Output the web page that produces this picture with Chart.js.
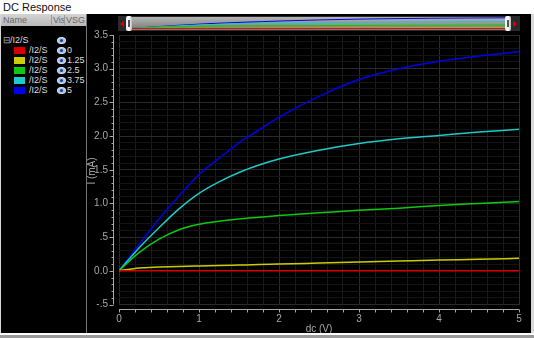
<!DOCTYPE html>
<html>
<head>
<meta charset="utf-8">
<script src="https://cdn.jsdelivr.net/npm/chart.js@4"></script>
<style>
  body { margin: 0; width: 534px; height: 338px; background: #d8d8d8; position: relative; overflow: hidden; font-family: 'Liberation Sans', Arial, sans-serif; }
  .titlebar { position: absolute; left: 0; top: 0; width: 534px; height: 14px; background: #fff; font-size: 11px; color: #111; }
  .titlebar span { position: absolute; left: 3px; top: 1px; }
  .panel { position: absolute; left: 1px; top: 14px; width: 85px; height: 319px; background: #000; border-right: 1px solid #777; }
  .hdr { position: absolute; left: 0; top: 0; width: 85px; height: 12px; background: linear-gradient(#d4d4d4, #b8b8b8); font-size: 9px; color: #666; }
  .hdr span { position: absolute; top: 1px; }
  .row { position: absolute; left: 0; height: 10px; width: 85px; font-size: 9px; color: #ddd; }
  .row span { position: absolute; top: 0; }
  .sw { position: absolute; left: 13px; top: 2px; width: 11px; height: 7px; }
  .eye { position: absolute; left: 56px; top: 2px; width: 7px; height: 5px; border-radius: 50%; background: #9fc4e8; border: 1px solid #dde; }
  .eye:after { content: ''; position: absolute; left: 2px; top: 1px; width: 3px; height: 3px; border-radius: 50%; background: #1a3c8a; }
  .plotbg { position: absolute; left: 87px; top: 14px; width: 444px; height: 319px; background: #000; }
  #chart { position: absolute; left: 87px; top: 14px; }
  .ytitle { position: absolute; left: 62px; top: 165px; width: 60px; height: 12px; line-height: 12px; text-align: center; font-size: 10px; color: #a8a8a8; transform: rotate(-90deg); font-family: 'Liberation Sans Narrow', 'Liberation Sans', sans-serif; }
  .ov { position: absolute; left: 118px; top: 16px; width: 402px; height: 15px; background: #2a2a2a; }
  .ovbody { position: absolute; left: 14px; top: 1px; width: 373px; height: 13px; background: linear-gradient(#b4b4b4, #7a7a7a); }
  #mini { position: absolute; left: 132px; top: 17px; }
  .hdl { position: absolute; top: 0; width: 6px; height: 15px; background: linear-gradient(90deg, #eee, #fff, #bbb); border-radius: 2px; }
  .hdl:after { content: ''; position: absolute; left: 2px; top: 4px; width: 2px; height: 7px; background: #555; }
  .arr { position: absolute; top: 5px; width: 0; height: 0; border-top: 3px solid transparent; border-bottom: 3px solid transparent; }
  .bottombar { position: absolute; left: 0; top: 333px; width: 534px; height: 2px; background: #fff; }
  .bottombar2 { position: absolute; left: 0; top: 335px; width: 534px; height: 3px; background: #9a9a9a; }
</style>
</head>
<body>
<div class="titlebar"><span>DC Response</span></div>
<div class="panel">
  <div class="hdr"><span style="left:2px">Name</span><span style="left:50px;border-left:1px solid #999;padding-left:1px">Vis</span><span style="left:63px;border-left:1px solid #999;padding-left:1px">VSG</span></div>
  <div id="tree"></div>
</div>
<div class="plotbg"></div>
<canvas id="chart" width="444" height="319"></canvas>
<div class="ytitle" id="ytitle"></div>
<div class="ov">
  <div class="arr" style="left:2px;border-right:4px solid #d00"></div>
  <div class="ovbody"></div>
  <div class="hdl" style="left:8px"></div>
  <div class="hdl" style="left:387px"></div>
  <div class="arr" style="left:395px;border-left:4px solid #d00"></div>
</div>
<canvas id="mini" width="373" height="13"></canvas>
<div class="bottombar"></div>
<div class="bottombar2"></div>
<script>
// sweep values (dc, V) and drain current (mA) for each VSG
var dcV = [0, 0.25, 0.5, 0.75, 1, 1.25, 1.5, 1.75, 2, 2.5, 3, 3.5, 4, 4.5, 5];
var vsgLabels = ['0', '1.25', '2.5', '3.75', '5'];
var i_0 = [0, 0, 0, 0, 0, 0, 0, 0, 0, 0, 0, 0, 0, 0, 0];
var i_125 = [0, 0.04, 0.055, 0.065, 0.072, 0.078, 0.085, 0.092, 0.10, 0.115, 0.13, 0.145, 0.16, 0.17, 0.185];
var i_25 = [0, 0.27, 0.47, 0.61, 0.69, 0.735, 0.77, 0.795, 0.82, 0.86, 0.90, 0.93, 0.97, 1.00, 1.03];
var i_375 = [0, 0.34, 0.64, 0.92, 1.15, 1.32, 1.46, 1.57, 1.66, 1.79, 1.89, 1.96, 2.01, 2.06, 2.10];
var i_5 = [0, 0.39, 0.77, 1.11, 1.43, 1.67, 1.90, 2.09, 2.28, 2.59, 2.84, 3.00, 3.11, 3.19, 3.25];
var seriesName = '/I2/S';
var colors = ['#d80000', '#cccc00', '#10c810', '#20c8c8', '#0000e8'];
var xTitle = 'dc (V)';
var yTitle = 'I (mA)';

var allSeries = [i_0, i_125, i_25, i_375, i_5];

document.getElementById('ytitle').textContent = yTitle;

// left tree panel
var tree = document.getElementById('tree');
var top0 = document.createElement('div');
top0.className = 'row';
top0.style.top = '21px';
top0.innerHTML = '<span style="left:2px;color:#aaa">&#8863;</span><span style="left:9px">' + seriesName + '</span><div class="eye"></div>';
tree.appendChild(top0);
vsgLabels.forEach(function(v, i) {
  var r = document.createElement('div');
  r.className = 'row';
  r.style.top = (31 + i * 10) + 'px';
  r.innerHTML = '<div class="sw" style="background:' + colors[i] + '"></div><span style="left:28px">' + seriesName + '</span><div class="eye"></div><span style="left:66px">' + v + '</span>';
  tree.appendChild(r);
});

function pts(arr) {
  return dcV.map(function(x, i) { return { x: x, y: arr[i] }; });
}

function yLabel(v) {
  var r = Math.round(v * 10) / 10;
  if (Math.abs(r * 2 - Math.round(r * 2)) > 1e-6) return '';
  if (r === 0.5) return '.5';
  if (r === -0.5) return '-.5';
  return r.toFixed(1);
}

var fontFam = "'Liberation Sans Narrow', 'Liberation Sans', sans-serif";
var axisFont = { family: fontFam, size: 10 };

var axesPlugin = {
  id: 'offsetAxes',
  afterDraw: function(chart) {
    var ctx = chart.ctx, xs = chart.scales.x, ys = chart.scales.y, ca = chart.chartArea;
    ctx.save();
    ctx.strokeStyle = '#a8a8a8';
    ctx.lineWidth = 1;
    var ax = Math.round(ca.left - 6) + 0.5;
    ctx.beginPath();
    ctx.moveTo(ax, ys.getPixelForValue(3.5));
    ctx.lineTo(ax, ys.getPixelForValue(-0.5));
    ys.ticks.forEach(function(t) {
      var y = Math.round(ys.getPixelForValue(t.value)) + 0.5;
      var major = yLabel(t.value) !== '';
      ctx.moveTo(ax, y);
      ctx.lineTo(ax - (major ? 4 : 2), y);
    });
    var ay = Math.round(ca.bottom + 4) + 0.5;
    ctx.moveTo(xs.getPixelForValue(0), ay);
    ctx.lineTo(xs.getPixelForValue(5), ay);
    xs.ticks.forEach(function(t) {
      var x = Math.round(xs.getPixelForValue(t.value)) + 0.5;
      ctx.moveTo(x, ay);
      ctx.lineTo(x, ay + 3);
    });
    ctx.stroke();

    ctx.fillStyle = '#a8a8a8';
    ctx.font = '10px ' + fontFam;
    ctx.textAlign = 'center';
    ctx.textBaseline = 'middle';
    ctx.fillText(xTitle, (ca.left + ca.right) / 2, 315);
    ctx.restore();
  }
};

new Chart(document.getElementById('chart'), {
  type: 'line',
  data: {
    datasets: allSeries.map(function(arr, i) {
      return {
        label: vsgLabels[i],
        data: pts(arr),
        borderColor: colors[i],
        borderWidth: 1.5,
        pointRadius: 0,
        cubicInterpolationMode: 'monotone',
        fill: false
      };
    })
  },
  options: {
    responsive: false,
    animation: false,
    layout: { padding: { top: 21, right: 12, left: 0, bottom: 0 } },
    plugins: { legend: { display: false }, tooltip: { enabled: false } },
    scales: {
      x: {
        type: 'linear',
        min: 0,
        max: 5,
        border: { display: false },
        afterFit: function(s) { s.height = 28.5; },
        grid: {
          drawTicks: false,
          color: function(c) {
            var v = c.tick.value;
            return Math.abs(v - Math.round(v)) < 1e-6 ? '#2c2c2c' : '#1a1a1a';
          }
        },
        ticks: {
          stepSize: 0.2,
          autoSkip: false,
          maxRotation: 0,
          padding: 9,
          color: '#a8a8a8',
          font: axisFont,
          callback: function(v) {
            return Math.abs(v - Math.round(v)) < 1e-6 ? String(Math.round(v)) : '';
          }
        }
      },
      y: {
        min: -0.5,
        max: 3.5,
        border: { display: false },
        afterFit: function(s) { s.width = 32; },
        grid: {
          drawTicks: false,
          color: function(c) {
            return yLabel(c.tick.value) !== '' ? '#2a2a2a' : '#141414';
          }
        },
        ticks: {
          stepSize: 0.1,
          autoSkip: false,
          padding: 11,
          color: '#a8a8a8',
          font: axisFont,
          callback: yLabel
        }
      }
    }
  },
  plugins: [axesPlugin]
});

// overview strip above the plot
new Chart(document.getElementById('mini'), {
  type: 'line',
  data: {
    datasets: allSeries.map(function(arr, i) {
      return { data: pts(arr), borderColor: colors[i], borderWidth: 1, pointRadius: 0, cubicInterpolationMode: 'monotone' };
    })
  },
  options: {
    responsive: false,
    animation: false,
    plugins: { legend: { display: false }, tooltip: { enabled: false } },
    scales: {
      x: { type: 'linear', min: 0, max: 5, display: false },
      y: { min: -0.5, max: 3.5, display: false }
    }
  }
});
</script>
</body>
</html>
